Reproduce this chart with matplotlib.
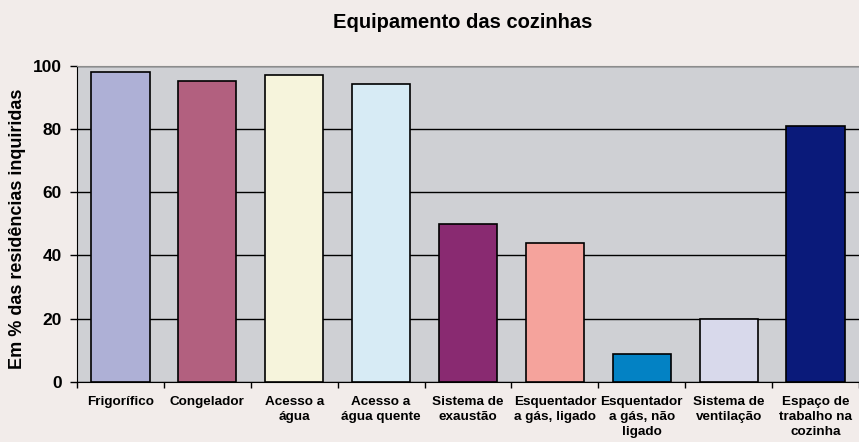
import matplotlib.pyplot as plt
import numpy as np

plt.rcParams['font.family'] = ['Liberation Sans', 'DejaVu Sans']

categorias = ['Frigorífico', 'Congelador', 'Acesso a\nágua', 'Acesso a\nágua quente',
              'Sistema de\nexaustão', 'Esquentador\na gás, ligado', 'Esquentador\na gás, não\nligado',
              'Sistema de\nventilação', 'Espaço de\ntrabalho na\ncozinha']
valores = [98, 95, 97, 94, 50, 44, 9, 20, 81]
cores = ['#AEB0D6', '#B2607F', '#F6F4DC', '#D7EBF5', '#892A71',
         '#F5A39C', '#0382C4', '#D8D9EB', '#0A1A7A']
yticks = [0, 20, 40, 60, 80, 100]

fig = plt.figure(figsize=(8.59, 4.42), dpi=100, facecolor='#F2ECEA')
ax = fig.add_axes([77/859, 1 - 382/442, 1 - 77/859, (382 - 65.5)/442])
ax.set_facecolor('#CFD0D4')

x = np.arange(len(categorias))
ax.bar(x, valores, width=0.67, color=cores, edgecolor='black', linewidth=1.2, zorder=3)

ax.set_ylim(0, 100)
ax.set_xlim(-0.5, 8.44)
ax.set_yticks(yticks)
ax.set_yticklabels([str(v) for v in yticks], fontsize=12.5, fontweight='bold')
ax.yaxis.grid(True, color='black', linewidth=1, zorder=0)
ax.set_axisbelow(True)
ax.tick_params(axis='y', direction='out', length=5, width=1, pad=6)

ax.set_xticks(x)
ax.set_xticklabels(categorias, fontsize=9.7, fontweight='bold', linespacing=1.35)
ax.set_xticks(np.arange(-0.5, 9, 1), minor=True)
ax.tick_params(axis='x', which='major', length=0, pad=10)
ax.tick_params(axis='x', which='minor', direction='out', length=4, width=1)

ax.spines['top'].set_color('#8C8C8C')
ax.spines['right'].set_visible(False)
ax.spines['left'].set_color('black')
ax.spines['bottom'].set_color('black')

fig.text(463/859, 1 - 22/442, 'Equipamento das cozinhas', ha='center', va='center',
         fontsize=14.5, fontweight='bold')
fig.text(18/859, 1 - 228.5/442, 'Em % das residências inquiridas', ha='center', va='center',
         rotation=90, fontsize=13, fontweight='bold')

fig.savefig('out.png', dpi=100, facecolor=fig.get_facecolor())
